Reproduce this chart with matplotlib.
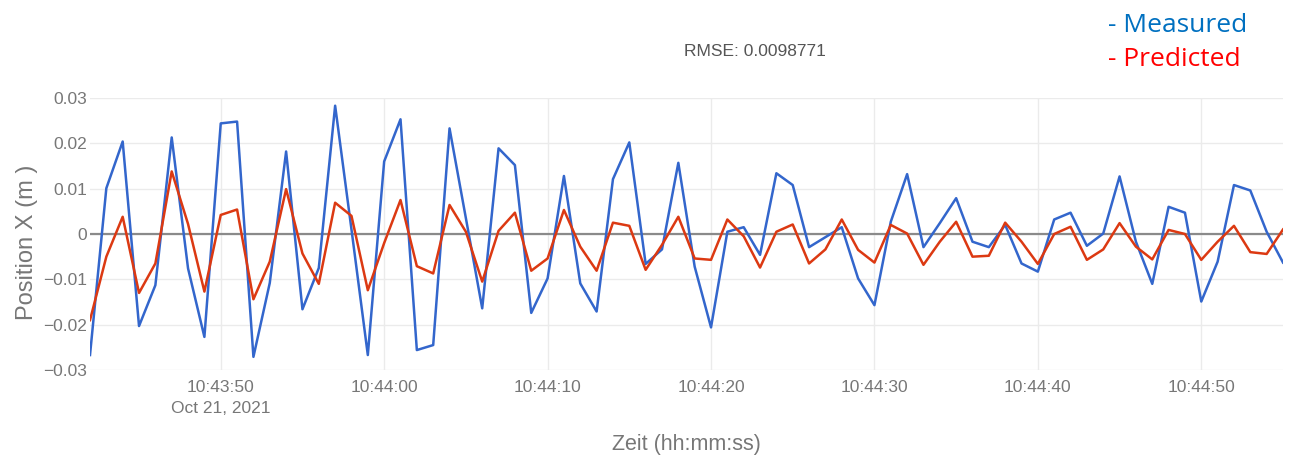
import numpy as np
import pandas as pd
import matplotlib
matplotlib.use('Agg')
import matplotlib.pyplot as plt

# ------------------------------------------------------------------
# data : one sample per second starting 10:43:42
# ------------------------------------------------------------------
t0 = '2021-10-21 10:43:42'
n_samples = 74

measured = [
    -0.0267, 0.0101, 0.0204, -0.0203, -0.0113, 0.0213, -0.0076, -0.0227,
    0.0244, 0.0248, -0.0271, -0.0108, 0.0182, -0.0166, -0.0075, 0.0283,
    0.0010, -0.0267, 0.0160, 0.0253, -0.0256, -0.0245, 0.0233, 0.0035,
    -0.0164, 0.0189, 0.0152, -0.0174, -0.0098, 0.0128, -0.0109, -0.0171,
    0.0121, 0.0202, -0.0066, -0.0034, 0.0157, -0.0072, -0.0206, 0.0005,
    0.0015, -0.0046, 0.0134, 0.0108, -0.0029, -0.0007, 0.0015, -0.0098,
    -0.0157, 0.0027, 0.0132, -0.0029, 0.0024, 0.0079, -0.0017, -0.0029,
    0.0020, -0.0065, -0.0083, 0.0032, 0.0047, -0.0026, 0.0001, 0.0127,
    -0.0017, -0.0110, 0.0060, 0.0047, -0.0149, -0.0061, 0.0108, 0.0096,
    0.0005, -0.0063,
]

predicted = [
    -0.0190, -0.0050, 0.0038, -0.0130, -0.0065, 0.0138, 0.0022, -0.0127,
    0.0042, 0.0054, -0.0144, -0.0061, 0.0099, -0.0043, -0.0110, 0.0069,
    0.0040, -0.0124, -0.0020, 0.0075, -0.0071, -0.0087, 0.0064, 0.0005,
    -0.0105, 0.0007, 0.0047, -0.0081, -0.0054, 0.0053, -0.0028, -0.0081,
    0.0025, 0.0018, -0.0079, -0.0024, 0.0038, -0.0054, -0.0057, 0.0032,
    -0.0005, -0.0074, 0.0005, 0.0021, -0.0065, -0.0034, 0.0032, -0.0035,
    -0.0063, 0.0020, 0.0001, -0.0068, -0.0017, 0.0027, -0.0050, -0.0048,
    0.0025, -0.0017, -0.0066, 0.0000, 0.0016, -0.0057, -0.0034, 0.0024,
    -0.0028, -0.0056, 0.0009, 0.0000, -0.0057, -0.0017, 0.0018, -0.0040,
    -0.0044, 0.0010,
]

rmse_text = 'RMSE: 0.0098771'
yticks = [-0.03, -0.02, -0.01, 0, 0.01, 0.02, 0.03]
ytick_labels = ['\u22120.03', '\u22120.02', '\u22120.01', '0', '0.01', '0.02', '0.03']

t = pd.date_range(t0, periods=n_samples, freq='s')

# ------------------------------------------------------------------
# figure
# ------------------------------------------------------------------
plt.rcParams['font.family'] = ['Liberation Sans', 'DejaVu Sans']
grey = '#777777'

fig = plt.figure(figsize=(12.93, 4.57), dpi=100)
ax = fig.add_axes([90/1293, 1 - 370/457, (1283 - 90)/1293, (370 - 98)/457])

ax.plot(t, measured, color='#3366cc', lw=1.8, zorder=3)
ax.plot(t, predicted, color='#dc3912', lw=1.8, zorder=4)
ax.axhline(0, color='#8a8a8a', lw=1.6, zorder=2)

ax.set_xlim(t[0], t[-1])
ax.set_ylim(-0.03, 0.03)
ax.set_yticks(yticks)
ax.set_yticklabels(ytick_labels)

xt = pd.date_range('2021-10-21 10:43:50', '2021-10-21 10:44:50', freq='10s')
ax.set_xticks(xt)
labels = [d.strftime('%H:%M:%S') for d in xt]
labels[0] = labels[0] + '\nOct 21, 2021'
ax.set_xticklabels(labels, linespacing=1.5)

ax.grid(True, color='#ebebeb', lw=1.0, zorder=0)
for s in ax.spines.values():
    s.set_visible(False)
ax.tick_params(axis='both', length=0, colors=grey, labelsize=12.5)
ax.tick_params(axis='x', pad=7)
ax.tick_params(axis='y', pad=2)

ax.set_ylabel('Position X (m )', color=grey, fontsize=17)
ax.yaxis.set_label_coords(-0.044, 0.47)
ax.set_xlabel('Zeit (hh:mm:ss)', color=grey, fontsize=15.5, labelpad=13)

fig.text(755/1293, 1 - 52/457, rmse_text, color='#555555', fontsize=12.5,
         ha='center', va='center')

fig.text(1108/1293, 1 - 32/457, '- Measured', color='#0070c0', fontsize=19,
         family=['Open Sans', 'DejaVu Sans'], ha='left', va='baseline')
fig.text(1108/1293, 1 - 66/457, '- Predicted', color='#ff0000', fontsize=19,
         family=['Open Sans', 'DejaVu Sans'], ha='left', va='baseline')

fig.savefig('out.png', dpi=100)
